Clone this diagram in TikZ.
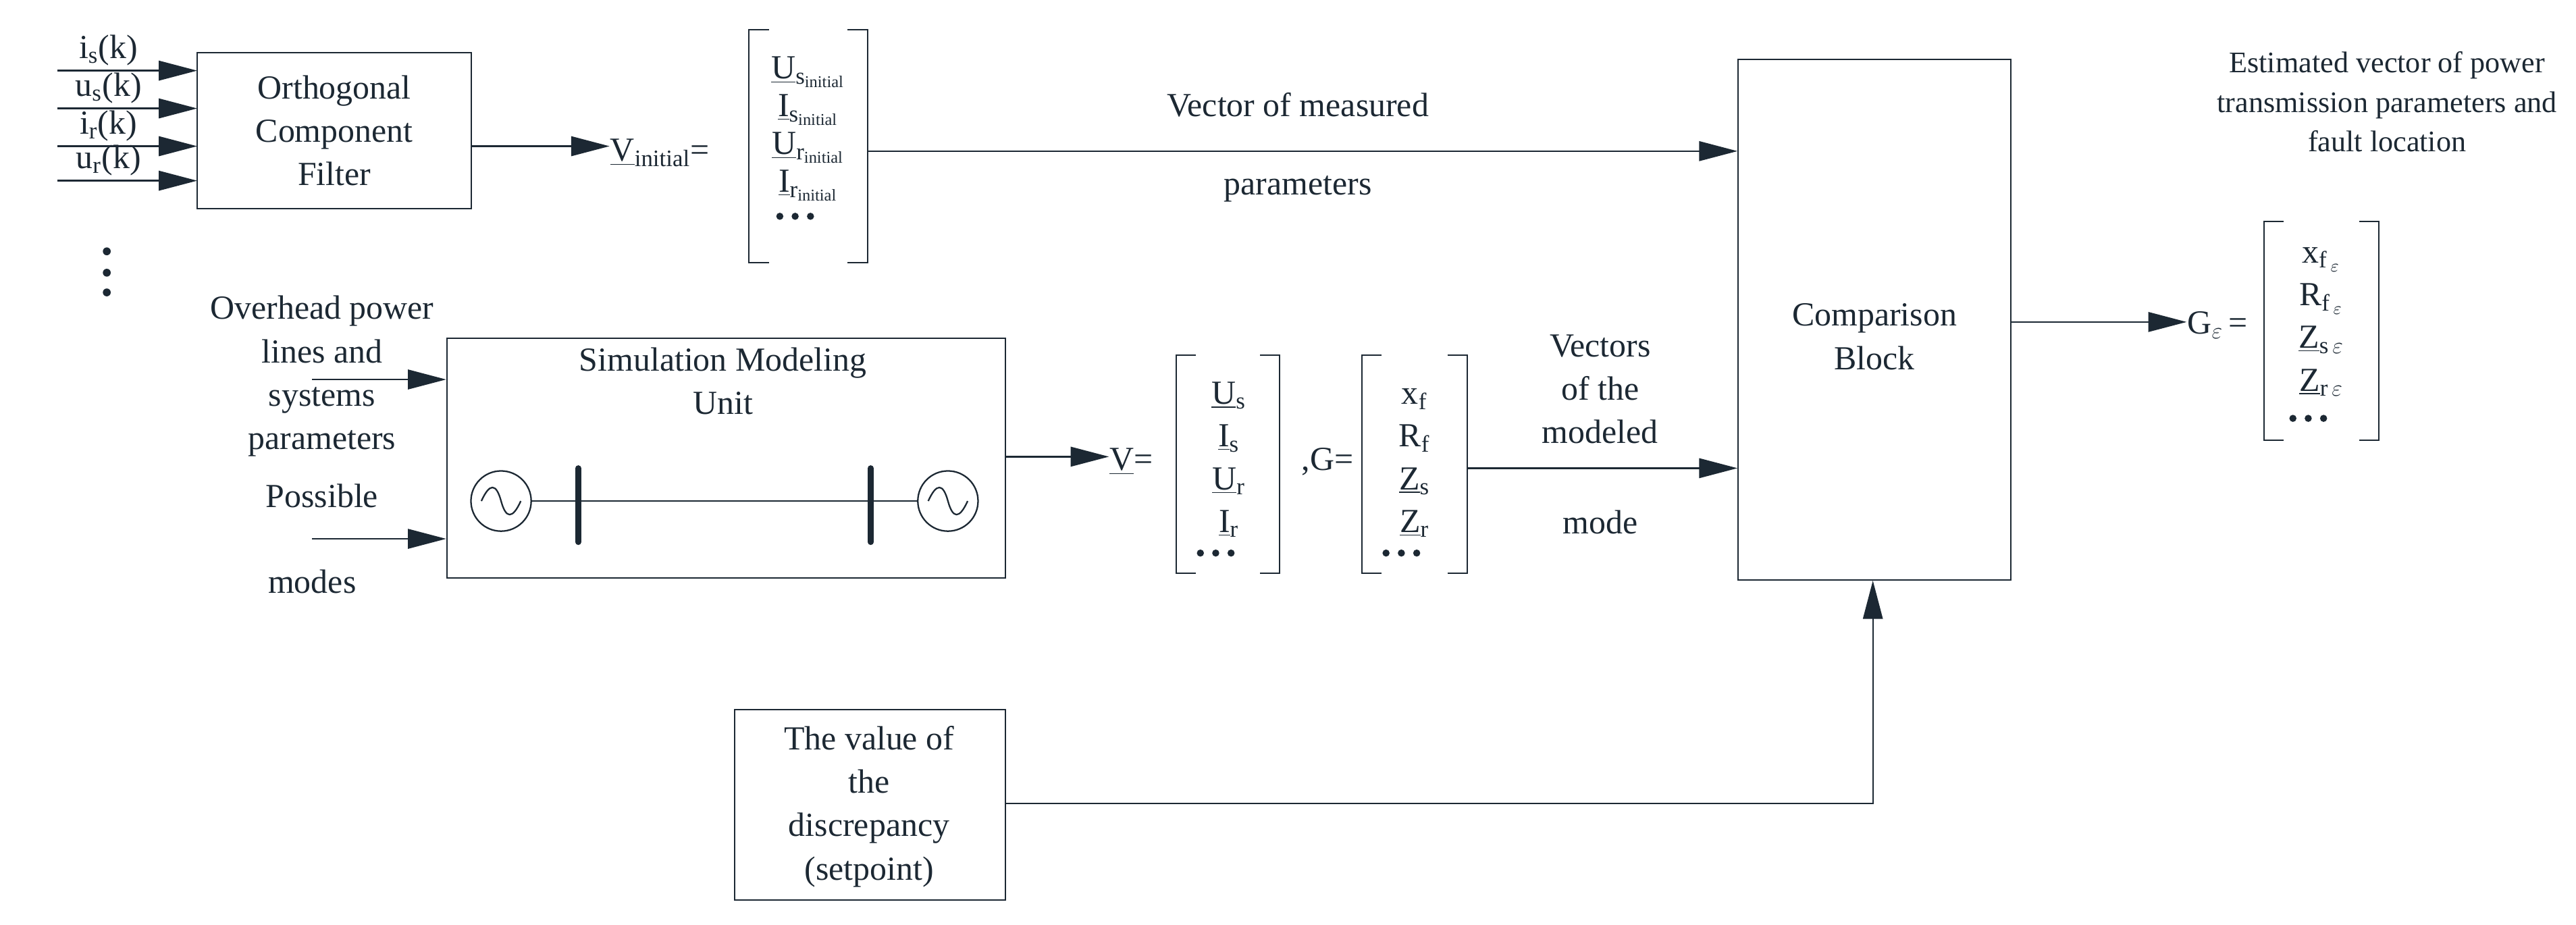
\documentclass[tikz,border=0pt]{standalone}
\usepackage{fontspec}
\setmainfont{Liberation Serif}
\usetikzlibrary{arrows.meta}
\definecolor{ink}{HTML}{1C2833}
\begin{document}
\begin{tikzpicture}[x=0.03cm,y=-0.03cm,color=ink,line width=0.8pt,
  font=\fontsize{17.5}{22.5}\selectfont,
  box/.style={draw,rectangle,line width=0.7pt},
  arr/.style={-{Triangle[length=0.7cm,width=0.36cm]}},
  lbl/.style={align=center,inner sep=0pt},
  ent/.style={inner sep=0pt,anchor=base}]
\useasboundingbox (0,0) rectangle (1568,563);
\newcommand{\brk}[4]{%
  \draw[line width=0.7pt] (#1+12,#2) -- (#1,#2) -- (#1,#4) -- (#1+12,#4);
  \draw[line width=0.7pt] (#3-12,#2) -- (#3,#2) -- (#3,#4) -- (#3-12,#4);}
\newcommand{\dts}{\tikz[baseline=0pt]{\foreach \i in {0,1,2}\fill (\i*0.28cm,0.1cm) circle (0.065cm);}}
% Orthogonal filter
\node[box,minimum width=5.01cm,minimum height=2.85cm] (ocf) at (203.5,79.5) {};
\node[lbl] at (ocf.center) {Orthogonal\\Component\\Filter};
\foreach \y/\t [count=\i] in {43/i\textsubscript{s}(k),66/u\textsubscript{s}(k),89/i\textsubscript{r}(k),110/u\textsubscript{r}(k)}{
  \coordinate (in\i) at (35,\y);
  \coordinate (inE\i) at (120,\y);
  \draw[arr] (in\i) -- (inE\i);
  \node[lbl] (lin\i) at (66,\y-12.5) {\t};
}
\foreach \y in {153,166,178} \fill (65,\y) circle (2.4);
% V initial
\node[lbl,anchor=west] (vin) at (371,93) {\underline{V}\textsubscript{initial}=};
\draw[arr] (ocf.east |- 0,89) -- (vin.west |- 0,89);
\brk{456}{18}{528}{160}
\node[ent] at (492,48) {\underline{U}\textsubscript{s\textsubscript{initial}}};
\node[ent] at (492,71) {\underline{I}\textsubscript{s\textsubscript{initial}}};
\node[ent] at (492,94) {\underline{U}\textsubscript{r\textsubscript{initial}}};
\node[ent] at (492,117) {\underline{I}\textsubscript{r\textsubscript{initial}}};
\node[ent] at (484,135) {\dts};
\coordinate (vinR) at (528,92);
% Comparison block
\node[box,minimum width=4.98cm,minimum height=9.51cm] (cmp) at (1141,194.5) {};
\node[lbl] at (1141,205) {Comparison\\Block};
\draw[arr] (vinR) -- (cmp.west |- vinR);
\node[lbl] at (790,64) {Vector of measured};
\node[lbl] at (790,115) {parameters};
% Output
\node[lbl,font=\fontsize{15.5}{20.5}\selectfont] at (1453,62) {Estimated vector of power\\transmission parameters and\\fault location};
\node[lbl,anchor=west] (ge) at (1331,198) {G$_\varepsilon$\,=};
\draw[arr] (cmp.east |- 0,196) -- (ge.west |- 0,196);
\brk{1378}{135}{1448}{268}
\node[ent] at (1413,160) {x\textsubscript{f\,$_\varepsilon$}};
\node[ent] at (1413,186) {R\textsubscript{f\,$_\varepsilon$}};
\node[ent] at (1413,212) {\underline{Z}\textsubscript{s\,$\varepsilon$}};
\node[ent] at (1413,238) {\underline{Z}\textsubscript{r\,$\varepsilon$}};
\node[ent] at (1405,258) {\dts};
% Simulation modeling unit
\node[box,minimum width=10.2cm,minimum height=4.38cm] (smu) at (442,279) {};
\node[lbl] at (440,232) {Simulation Modeling\\Unit};
\node[lbl] at (196,229) {Overhead power\\lines and\\systems\\parameters};
\coordinate (op) at (190,231);
\draw[arr] (op) -- (smu.west |- op);
\node[lbl] at (196,302) {Possible};
\node[lbl] at (190,354) {modes};
\coordinate (pm) at (190,328);
\draw[arr] (pm) -- (smu.west |- pm);
\node[draw,circle,minimum size=1.1cm,inner sep=0pt] (g1) at (305,305) {};
\node[draw,circle,minimum size=1.1cm,inner sep=0pt] (g2) at (577,305) {};
\draw (293,305) .. controls (298,294) and (302,294) .. (305,305) .. controls (308,316) and (312,316) .. (317,305);
\draw (565,305) .. controls (570,294) and (574,294) .. (577,305) .. controls (580,316) and (584,316) .. (589,305);
\coordinate (b1t) at (352,285); \coordinate (b1b) at (352,330);
\coordinate (b2t) at (530,285); \coordinate (b2b) at (530,330);
\draw[line width=3pt,line cap=round] (b1t) -- (b1b);
\draw[line width=3pt,line cap=round] (b2t) -- (b2b);
\draw (g1.east) -- (g2.west);
% V and G
\node[lbl,anchor=west] (veq) at (675,281) {\underline{V}=};
\draw[arr] (smu.east |- 0,278) -- (veq.west |- 0,278);
\brk{716}{216}{779}{349}
\node[ent] at (748,246) {\underline{U}\textsubscript{s}};
\node[ent] at (748,272) {\underline{I}\textsubscript{s}};
\node[ent] at (748,298) {\underline{U}\textsubscript{r}};
\node[ent] at (748,324) {\underline{I}\textsubscript{r}};
\node[ent] at (740,340) {\dts};
\node[lbl] at (808,281) {,G=};
\brk{829}{216}{893}{349}
\node[ent] at (861,246) {x\textsubscript{f}};
\node[ent] at (861,272) {R\textsubscript{f}};
\node[ent] at (861,298) {\underline{Z}\textsubscript{s}};
\node[ent] at (861,324) {\underline{Z}\textsubscript{r}};
\node[ent] at (853,340) {\dts};
\coordinate (gR) at (893,285);
\draw[arr] (gR) -- (cmp.west |- gR);
\node[lbl] at (974,237) {Vectors\\of the\\modeled};
\node[lbl] at (974,318) {mode};
% discrepancy
\node[box,minimum width=4.95cm,minimum height=3.48cm] (dis) at (529.5,490) {};
\node[lbl] at (529,491) {The value of\\the\\discrepancy\\(setpoint)};
\draw[arr] (dis.east |- 0,489) -| (cmp.south -| 1140,0);
\end{tikzpicture}
\end{document}
